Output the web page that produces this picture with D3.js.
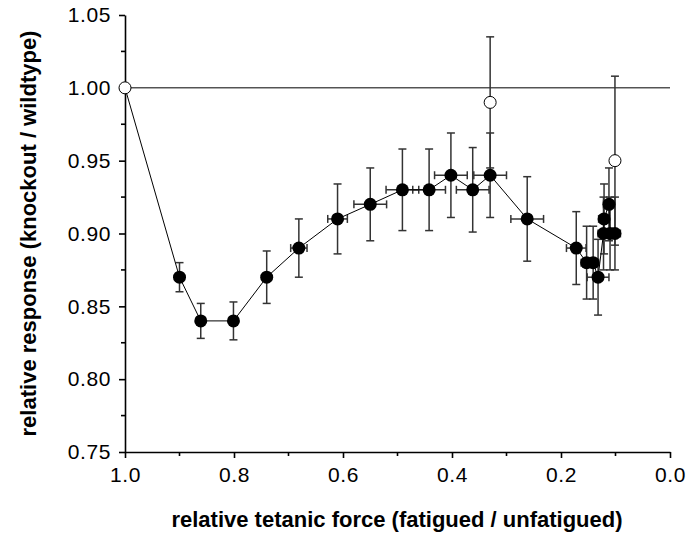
<!DOCTYPE html>
<html>
<head>
<meta charset="utf-8">
<script src="https://cdn.jsdelivr.net/npm/d3@7"></script>
<style>
  body { margin: 0; background: #fff; }
  svg { font-family: "Liberation Sans", Arial, sans-serif; }
</style>
</head>
<body>
<svg id="chart" width="689" height="535"></svg>
<script>
// filled series (first point is the open reference circle at 1.0)
const forceX = [1.0, 0.90, 0.861, 0.801, 0.740, 0.681, 0.610, 0.550, 0.491, 0.442, 0.402, 0.362, 0.330,
  0.262, 0.172, 0.153, 0.141, 0.132, 0.122, 0.121, 0.112, 0.110, 0.101]
const response = [1.00, 0.87, 0.84, 0.84, 0.87, 0.89, 0.91, 0.92, 0.93, 0.93, 0.94, 0.93, 0.94,
  0.91, 0.89, 0.88, 0.88, 0.87, 0.90, 0.91, 0.92, 0.90, 0.90]
const responseErr = [0, 0.010, 0.012, 0.013, 0.018, 0.020, 0.024, 0.025, 0.028, 0.028, 0.029, 0.029, 0.029,
  0.029, 0.025, 0.025, 0.025, 0.026, 0.025, 0.024, 0.025, 0.025, 0.025]
const forceErr = [0, 0, 0, 0, 0, 0.015, 0.018, 0.030, 0.030, 0.030, 0.030, 0.030, 0.030,
  0.030, 0.018, 0.010, 0.010, 0.020, 0.010, 0.010, 0.010, 0.010, 0.010]

// open circles, not joined by the line
const openX = [0.330, 0.101]
const openY = [0.99, 0.95]
const openErr = [0.045, 0.058]

const yTicks = [0.75, 0.80, 0.85, 0.90, 0.95, 1.00, 1.05]
const xTicks = [1.0, 0.8, 0.6, 0.4, 0.2, 0.0]

const svg = d3.select('#chart')

const x = d3.scaleLinear().domain([1, 0]).range([125, 670])
const y = d3.scaleLinear().domain([0.75, 1.05]).range([452, 15])

const data = forceX.map((f, i) => ({ x: f, y: response[i], ey: responseErr[i], ex: forceErr[i] }))
const opens = openX.map((f, i) => ({ x: f, y: openY[i], ey: openErr[i] }))

// reference line at 1.0
svg.append('line')
  .attr('x1', x(1)).attr('x2', x(0))
  .attr('y1', y(1)).attr('y2', y(1))
  .style('stroke', '#000')
  .style('stroke-width', 1)

// y axis
const yaxis = d3.axisLeft(y).tickValues(yTicks).tickFormat(d3.format('.2f')).tickSize(6).tickSizeOuter(0)
const yaxisg = svg.append('g')
  .attr('transform', `translate(${x(1)}, 0)`)
  .call(yaxis)
yaxisg.select('.domain').style('stroke-width', 1.6)
yaxisg.selectAll('.tick line').style('stroke-width', 1.6)
yaxisg.selectAll('.tick text')
  .attr('x', -14)
  .style('font-size', '21px')
  .style('letter-spacing', '0.6px')
  .style('fill', '#000')

// y minor ticks
svg.append('g').selectAll('line')
  .data(d3.range(0.775, 1.05, 0.05))
  .enter().append('line')
  .attr('x1', x(1) - 4).attr('x2', x(1))
  .attr('y1', d => y(d)).attr('y2', d => y(d))
  .style('stroke', '#000').style('stroke-width', 1.6)

// x axis
const xaxis = d3.axisBottom(x).tickValues(xTicks).tickFormat(d3.format('.1f')).tickSize(6).tickSizeOuter(0)
const xaxisg = svg.append('g')
  .attr('transform', `translate(0, ${y(0.75)})`)
  .call(xaxis)
xaxisg.select('.domain').style('stroke-width', 1.6)
xaxisg.selectAll('.tick line').style('stroke-width', 1.6)
xaxisg.selectAll('.tick text')
  .attr('y', 15)
  .style('font-size', '21px')
  .style('letter-spacing', '0.6px')
  .style('fill', '#000')

// x minor ticks
svg.append('g').selectAll('line')
  .data([0.9, 0.7, 0.5, 0.3, 0.1])
  .enter().append('line')
  .attr('x1', d => x(d)).attr('x2', d => x(d))
  .attr('y1', y(0.75)).attr('y2', y(0.75) + 4)
  .style('stroke', '#000').style('stroke-width', 1.6)

// axis titles
svg.append('text')
  .attr('x', 397).attr('y', 527)
  .attr('text-anchor', 'middle')
  .style('font-size', '22px')
  .style('font-weight', 'bold')
  .text('relative tetanic force (fatigued / unfatigued)')

svg.append('text')
  .attr('transform', `translate(36, ${y(0.9)}) rotate(-90)`)
  .attr('text-anchor', 'middle')
  .style('font-size', '22px')
  .style('font-weight', 'bold')
  .text('relative response (knockout / wildtype)')

// error bars
const cap = 4
const errg = svg.append('g').style('stroke', '#333').style('stroke-width', 1.5)

function vbar(g, d) {
  if (!d.ey) return
  g.append('line').attr('x1', x(d.x)).attr('x2', x(d.x)).attr('y1', y(d.y - d.ey)).attr('y2', y(d.y + d.ey))
  g.append('line').attr('x1', x(d.x) - cap).attr('x2', x(d.x) + cap).attr('y1', y(d.y - d.ey)).attr('y2', y(d.y - d.ey))
  g.append('line').attr('x1', x(d.x) - cap).attr('x2', x(d.x) + cap).attr('y1', y(d.y + d.ey)).attr('y2', y(d.y + d.ey))
}
function hbar(g, d) {
  if (!d.ex) return
  g.append('line').attr('x1', x(d.x - d.ex)).attr('x2', x(d.x + d.ex)).attr('y1', y(d.y)).attr('y2', y(d.y))
  g.append('line').attr('x1', x(d.x - d.ex)).attr('x2', x(d.x - d.ex)).attr('y1', y(d.y) - cap).attr('y2', y(d.y) + cap)
  g.append('line').attr('x1', x(d.x + d.ex)).attr('x2', x(d.x + d.ex)).attr('y1', y(d.y) - cap).attr('y2', y(d.y) + cap)
}
data.forEach(d => { vbar(errg, d); hbar(errg, d) })
opens.forEach(d => vbar(errg, d))

// connecting line
const line = d3.line().x(d => x(d.x)).y(d => y(d.y))
svg.append('path')
  .datum(data)
  .attr('d', line)
  .style('fill', 'none')
  .style('stroke', '#000')
  .style('stroke-width', 1)

// markers
svg.append('g').selectAll('circle')
  .data(data.slice(1))
  .enter().append('circle')
  .attr('cx', d => x(d.x)).attr('cy', d => y(d.y))
  .attr('r', 6.5)
  .style('fill', '#000')

svg.append('g').selectAll('circle')
  .data([data[0]].concat(opens))
  .enter().append('circle')
  .attr('cx', d => x(d.x)).attr('cy', d => y(d.y))
  .attr('r', 6)
  .style('fill', '#fff')
  .style('stroke', '#000')
  .style('stroke-width', 1)
</script>
</body>
</html>
